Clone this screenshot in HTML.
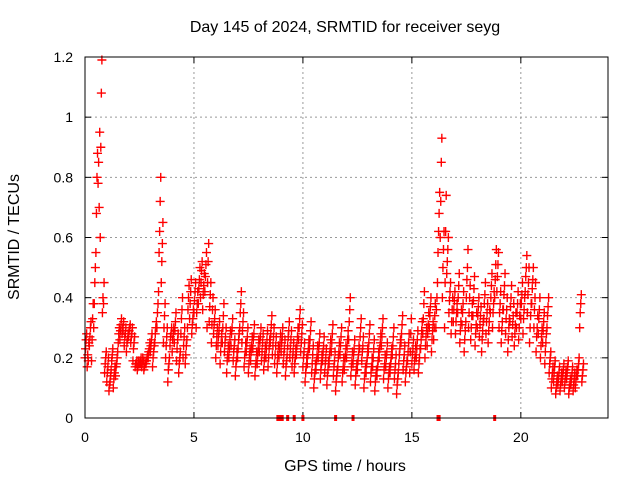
<!DOCTYPE html>
<html><head><meta charset="utf-8"><style>
body{margin:0;background:#fff}
svg{display:block;font-family:"Liberation Sans",sans-serif}
</style></head><body>
<svg id="chart" width="640" height="480">
<rect width="640" height="480" fill="#fff"/>
<text x="345" y="32" font-size="16" text-anchor="middle">Day 145 of 2024, SRMTID for receiver seyg</text>
<text x="345" y="471" font-size="16" text-anchor="middle">GPS time / hours</text>
<text transform="translate(19,237) rotate(-90)" font-size="16" text-anchor="middle">SRMTID / TECUs</text>
<g id="grid"></g>
<g id="ticks"></g>
<g id="marks"></g>
<rect x="85" y="57" width="523" height="361" fill="none" stroke="#000" stroke-width="1"/>
</svg>
<script>
const xTicks=[0,5,10,15,20];
const yTicks=[0,0.2,0.4,0.6,0.8,1,1.2];
const yTickLabels=["0","0.2","0.4","0.6","0.8","1","1.2"];
const step=0.1;
const seriesLow=[
0.20,0.17,0.24,0.19,0.30,0.55,0.78,0.60,0.35,0.15,
0.12,0.09,0.16,0.10,0.14,0.22,0.26,0.28,0.24,0.22,
0.27,0.25,0.19,0.17,0.16,0.18,0.17,0.16,0.18,0.20,
0.22,0.17,0.25,0.30,0.55,0.45,0.25,0.20,0.12,0.24,
0.22,0.25,0.19,0.15,0.28,0.20,0.18,0.30,0.33,0.28,
0.35,0.30,0.38,0.40,0.36,0.42,0.30,0.32,0.25,0.28,
0.20,0.24,0.18,0.25,0.22,0.15,0.20,0.24,0.19,0.14,
0.20,0.30,0.25,0.17,0.22,0.15,0.19,0.23,0.14,0.18,
0.22,0.19,0.16,0.20,0.17,0.25,0.21,0.18,0.15,0.20,
0.22,0.18,0.14,0.24,0.20,0.17,0.15,0.21,0.26,0.22,
0.17,0.12,0.18,0.23,0.15,0.10,0.16,0.20,0.13,0.19,
0.15,0.11,0.18,0.22,0.14,0.09,0.17,0.21,0.12,0.16,
0.20,0.26,0.14,0.18,0.11,0.16,0.23,0.19,0.10,0.15,
0.22,0.12,0.17,0.09,0.14,0.20,0.24,0.13,0.17,0.10,
0.15,0.21,0.13,0.08,0.18,0.25,0.16,0.12,0.19,0.15,
0.18,0.16,0.20,0.15,0.23,0.28,0.20,0.24,0.30,0.22,
0.26,0.30,0.55,0.60,0.40,0.30,0.48,0.35,0.28,0.32,
0.28,0.35,0.25,0.31,0.22,0.40,0.30,0.26,0.34,0.24,
0.30,0.27,0.22,0.33,0.28,0.25,0.35,0.30,0.40,0.42,
0.30,0.25,0.36,0.28,0.22,0.32,0.27,0.24,0.30,0.26,
0.33,0.28,0.42,0.35,0.25,0.38,0.30,0.22,0.28,0.20,
0.25,0.18,0.30,0.15,0.10,0.12,0.08,0.11,0.09,0.12,
0.10,0.13,0.08,0.11,0.09,0.10,0.14,0.30,0.12];
const seriesMidA=[
0.23,0.21,0.27,0.26,0.38,0.68,0.85,0.90,0.40,0.18,
0.15,0.11,0.19,0.13,0.17,0.25,0.29,0.30,0.27,0.25,
0.29,0.27,0.23,0.18,0.17,0.19,0.18,0.17,0.19,0.22,
0.24,0.20,0.28,0.35,0.62,0.52,0.30,0.24,0.16,0.27,
0.26,0.29,0.23,0.18,0.33,0.24,0.21,0.36,0.38,0.31,
0.39,0.35,0.43,0.45,0.41,0.47,0.45,0.37,0.31,0.31,
0.24,0.27,0.22,0.30,0.25,0.19,0.23,0.28,0.22,0.17,
0.23,0.35,0.29,0.20,0.25,0.18,0.22,0.26,0.17,0.21,
0.25,0.22,0.19,0.23,0.20,0.28,0.24,0.21,0.18,0.23,
0.25,0.21,0.17,0.27,0.23,0.20,0.18,0.24,0.30,0.25,
0.20,0.15,0.21,0.26,0.18,0.13,0.19,0.23,0.16,0.22,
0.18,0.14,0.21,0.25,0.17,0.12,0.20,0.24,0.15,0.19,
0.23,0.32,0.17,0.21,0.14,0.19,0.27,0.22,0.13,0.18,
0.25,0.15,0.20,0.12,0.17,0.23,0.27,0.16,0.20,0.13,
0.18,0.24,0.16,0.11,0.21,0.28,0.19,0.15,0.22,0.22,
0.21,0.19,0.23,0.18,0.26,0.33,0.24,0.28,0.34,0.26,
0.30,0.36,0.62,0.72,0.50,0.45,0.52,0.39,0.32,0.36,
0.32,0.40,0.29,0.35,0.26,0.46,0.35,0.30,0.39,0.28,
0.34,0.31,0.26,0.38,0.32,0.29,0.40,0.35,0.46,0.47,
0.35,0.29,0.41,0.33,0.26,0.37,0.31,0.28,0.35,0.30,
0.38,0.33,0.47,0.41,0.30,0.43,0.36,0.27,0.33,0.24,
0.29,0.22,0.34,0.18,0.13,0.15,0.10,0.13,0.11,0.14,
0.12,0.15,0.10,0.13,0.11,0.12,0.16,0.35,0.14];
const seriesMidB=[
0.26,0.19,0.30,0.33,0.45,0.80,0.70,1.08,0.38,0.20,
0.17,0.12,0.21,0.15,0.18,0.28,0.31,0.29,0.28,0.26,
0.30,0.28,0.25,0.18,0.19,0.18,0.20,0.19,0.20,0.23,
0.26,0.22,0.30,0.38,0.72,0.58,0.34,0.27,0.18,0.28,
0.28,0.32,0.26,0.20,0.36,0.27,0.24,0.40,0.42,0.33,
0.42,0.38,0.46,0.49,0.44,0.51,0.52,0.41,0.36,0.33,
0.27,0.29,0.25,0.34,0.27,0.21,0.26,0.30,0.24,0.19,
0.26,0.38,0.32,0.22,0.27,0.21,0.24,0.28,0.19,0.23,
0.27,0.25,0.21,0.26,0.23,0.31,0.27,0.24,0.21,0.25,
0.27,0.23,0.19,0.29,0.26,0.22,0.20,0.27,0.33,0.28,
0.22,0.17,0.23,0.29,0.21,0.15,0.21,0.25,0.18,0.24,
0.20,0.16,0.23,0.28,0.19,0.14,0.22,0.27,0.17,0.21,
0.26,0.36,0.19,0.23,0.16,0.21,0.30,0.24,0.15,0.20,
0.28,0.17,0.23,0.14,0.19,0.25,0.30,0.18,0.22,0.15,
0.20,0.27,0.18,0.13,0.23,0.31,0.21,0.17,0.25,0.28,
0.23,0.21,0.26,0.20,0.29,0.38,0.27,0.31,0.37,0.29,
0.34,0.40,0.68,0.85,0.56,0.62,0.56,0.42,0.36,0.39,
0.35,0.44,0.32,0.38,0.29,0.50,0.40,0.34,0.43,0.31,
0.37,0.34,0.29,0.41,0.35,0.32,0.44,0.38,0.51,0.51,
0.38,0.32,0.44,0.36,0.30,0.40,0.34,0.31,0.38,0.34,
0.41,0.36,0.50,0.45,0.34,0.46,0.40,0.30,0.36,0.27,
0.32,0.25,0.37,0.20,0.15,0.17,0.12,0.15,0.13,0.16,
0.14,0.17,0.11,0.15,0.13,0.14,0.18,0.38,0.16];
const seriesHigh=[
0.28,0.25,0.32,0.38,0.50,0.88,0.95,1.19,0.45,0.22,
0.20,0.14,0.23,0.17,0.20,0.30,0.33,0.32,0.30,0.28,
0.31,0.30,0.27,0.19,0.18,0.20,0.19,0.18,0.21,0.25,
0.28,0.24,0.32,0.42,0.80,0.65,0.38,0.30,0.20,0.30,
0.30,0.35,0.28,0.22,0.40,0.30,0.26,0.44,0.46,0.36,
0.45,0.42,0.50,0.52,0.48,0.55,0.58,0.45,0.40,0.36,
0.30,0.32,0.28,0.38,0.30,0.24,0.29,0.33,0.26,0.22,
0.28,0.42,0.35,0.25,0.30,0.23,0.27,0.31,0.22,0.26,
0.30,0.28,0.24,0.29,0.26,0.34,0.30,0.27,0.24,0.28,
0.30,0.26,0.21,0.32,0.29,0.25,0.23,0.30,0.36,0.31,
0.25,0.20,0.26,0.32,0.24,0.18,0.24,0.28,0.21,0.27,
0.23,0.19,0.26,0.31,0.22,0.16,0.25,0.30,0.20,0.24,
0.29,0.40,0.22,0.26,0.18,0.24,0.33,0.27,0.17,0.23,
0.31,0.20,0.26,0.16,0.22,0.28,0.33,0.21,0.25,0.17,
0.23,0.30,0.21,0.15,0.26,0.34,0.24,0.19,0.28,0.33,
0.26,0.24,0.29,0.23,0.32,0.42,0.30,0.35,0.40,0.32,
0.38,0.45,0.75,0.93,0.62,0.74,0.60,0.45,0.40,0.42,
0.38,0.48,0.36,0.42,0.32,0.56,0.44,0.38,0.47,0.35,
0.40,0.37,0.32,0.45,0.38,0.36,0.48,0.42,0.56,0.55,
0.42,0.36,0.48,0.40,0.33,0.44,0.38,0.35,0.42,0.38,
0.45,0.40,0.54,0.50,0.38,0.50,0.45,0.34,0.40,0.30,
0.35,0.28,0.40,0.22,0.17,0.19,0.14,0.17,0.15,0.18,
0.16,0.19,0.13,0.17,0.15,0.16,0.20,0.41,0.18];
const zeroTimes=[8.85,8.95,9.05,9.3,9.6,10.0,11.5,12.3,16.2,16.25,18.8];

const X0=85,X1=608,Y0=418,Y1=57,XMAX=24,YMAX=1.2;
function sx(h){return X0+(X1-X0)*h/XMAX;}
function sy(v){return Y0-(Y0-Y1)*v/YMAX;}
const NS="http://www.w3.org/2000/svg";
function mk(tag,attrs,parent){const e=document.createElementNS(NS,tag);for(const k in attrs)e.setAttribute(k,attrs[k]);parent.appendChild(e);return e;}
const grid=document.getElementById('grid'),ticks=document.getElementById('ticks'),marks=document.getElementById('marks');
xTicks.forEach(t=>{
  const x=sx(t);
  if(t>0){const g=mk('line',{x1:x,x2:x,y1:Y1,y2:Y0,stroke:'#999','stroke-dasharray':'2,3'},grid);
  
  }
  mk('line',{x1:x,x2:x,y1:Y0,y2:Y0-6,stroke:'#000'},ticks);
  mk('line',{x1:x,x2:x,y1:Y1,y2:Y1+6,stroke:'#000'},ticks);
  const l=mk('text',{x:x,y:Y0+24,'font-size':14,'text-anchor':'middle'},ticks);l.textContent=t;
  
  
});
yTicks.forEach((t,i)=>{
  const y=sy(t);
  if(t>0&&t<YMAX){const g=mk('line',{x1:X0,x2:X1,y1:y,y2:y,stroke:'#999','stroke-dasharray':'2,3'},grid);
  
  }
  mk('line',{x1:X0,x2:X0+6,y1:y,y2:y,stroke:'#000'},ticks);
  mk('line',{x1:X1,x2:X1-6,y1:y,y2:y,stroke:'#000'},ticks);
  const l=mk('text',{x:X0-12,y:y+5,'font-size':14,'text-anchor':'end'},ticks);l.textContent=yTickLabels[i];
  
  
});
function plus(x,y,c){
  const p=mk('path',{d:`M${x-4.5} ${y}h9M${x} ${y-4.5}v9`,stroke:c,'stroke-width':1.4,fill:'none'},marks);
  
  
}
seriesLow.forEach((v,i)=>plus(sx(i*step),sy(v),'#f00'));
seriesMidA.forEach((v,i)=>plus(sx(i*step+0.025),sy(v),'#f00'));
seriesMidB.forEach((v,i)=>plus(sx(i*step+0.05),sy(v),'#f00'));
seriesHigh.forEach((v,i)=>plus(sx(i*step+0.075),sy(v),'#f00'));
zeroTimes.forEach(t=>{
  const r=mk('rect',{x:sx(t)-1.5,y:Y0-3,width:3,height:6,fill:'#f00'},marks);
  
  
});
</script>
</body></html>
